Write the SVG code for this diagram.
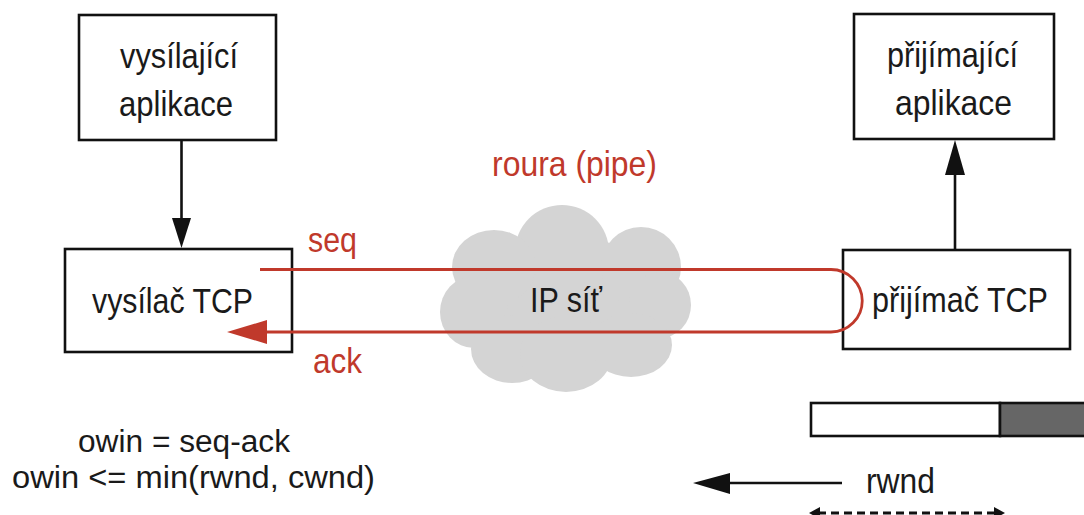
<svg xmlns="http://www.w3.org/2000/svg" width="1084" height="515" viewBox="0 0 1084 515">
<style>
.box{fill:#fff;stroke:#111;stroke-width:2.6}
.t{font-family:"Liberation Sans",Arial,sans-serif;font-size:35px;fill:#1a1a1a}
.s{font-family:"Liberation Sans",Arial,sans-serif;font-size:31px;fill:#1a1a1a}
.r{font-family:"Liberation Sans",Arial,sans-serif;font-size:35px;fill:#c0392b}
.blk{stroke:#111;stroke-width:2.6;fill:none}
.red{stroke:#c0392b;stroke-width:2.8;fill:none}
</style>
<rect width="1084" height="515" fill="#fff"/>
<g id="cloud" fill="#d4d4d4">
<ellipse cx="566" cy="300" rx="112" ry="62"/>
<circle cx="562" cy="252" r="47"/>
<ellipse cx="494" cy="267" rx="42" ry="37"/>
<ellipse cx="641" cy="267" rx="40" ry="40"/>
<ellipse cx="474" cy="312" rx="34" ry="36"/>
<ellipse cx="660" cy="305" rx="31" ry="33"/>
<ellipse cx="512" cy="349" rx="41" ry="34"/>
<ellipse cx="566" cy="354" rx="46" ry="38"/>
<ellipse cx="631" cy="345" rx="41" ry="32"/>
</g>
<g id="app-send">
<rect class="box" x="79" y="15" width="197" height="125"/>
<text class="t" x="120" y="68" textLength="118" lengthAdjust="spacingAndGlyphs">vysílající</text>
<text class="t" x="119" y="116" textLength="114" lengthAdjust="spacingAndGlyphs">aplikace</text>
</g>
<g id="app-recv">
<rect class="box" x="854" y="14" width="200" height="125"/>
<text class="t" x="887" y="67" textLength="131" lengthAdjust="spacingAndGlyphs">přijímající</text>
<text class="t" x="895" y="115" textLength="117" lengthAdjust="spacingAndGlyphs">aplikace</text>
</g>
<g id="tcp-send">
<rect class="box" x="65" y="249" width="227" height="103"/>
<text class="t" x="92" y="313" textLength="161" lengthAdjust="spacingAndGlyphs">vysílač TCP</text>
</g>
<g id="tcp-recv">
<rect class="box" x="843" y="250" width="227" height="99"/>
<text class="t" x="872" y="312" textLength="176" lengthAdjust="spacingAndGlyphs">přijímač TCP</text>
</g>
<g id="connectors">
<line class="blk" x1="181.5" y1="140" x2="181.5" y2="222"/>
<polygon points="172,218 191,218 181.5,248" fill="#111"/>
<line class="blk" x1="955" y1="250" x2="955" y2="170"/>
<polygon points="945,175 965,175 955,140" fill="#111"/>
<path class="red" d="M260,269.5 H831 A31.25,31.25 0 0 1 831,332 H262"/>
<polygon points="227,332 267,320 267,344" fill="#c0392b"/>
<line class="blk" x1="842" y1="483" x2="725" y2="483"/>
<polygon points="693,483 730,473 730,494" fill="#111"/>
</g>
<g id="labels">
<text class="r" x="492" y="176" textLength="165" lengthAdjust="spacingAndGlyphs">roura (pipe)</text>
<text class="r" x="308" y="252" textLength="49" lengthAdjust="spacingAndGlyphs">seq</text>
<text class="r" x="313" y="373" textLength="49" lengthAdjust="spacingAndGlyphs">ack</text>
<text class="t" x="530" y="312" textLength="72" lengthAdjust="spacingAndGlyphs">IP síť</text>
<text class="s" x="78" y="452" textLength="212" lengthAdjust="spacingAndGlyphs">owin = seq-ack</text>
<text class="s" x="12" y="488" textLength="363" lengthAdjust="spacingAndGlyphs">owin &lt;= min(rwnd, cwnd)</text>
<text class="t" x="866" y="493" textLength="69" lengthAdjust="spacingAndGlyphs">rwnd</text>
</g>
<g id="buffer">
<rect x="811" y="403" width="189" height="33" fill="#fff" stroke="#111" stroke-width="2.6"/>
<rect x="1000" y="403" width="90" height="33" fill="#666" stroke="#111" stroke-width="2.6"/>
</g>
<g id="rwnd-span">
<line x1="818" y1="513" x2="996" y2="513" stroke="#111" stroke-width="3" stroke-dasharray="8,5"/>
<polygon points="809,513 820,507 820,519" fill="#111"/>
<polygon points="1005,513 994,507 994,519" fill="#111"/>
</g>
</svg>
